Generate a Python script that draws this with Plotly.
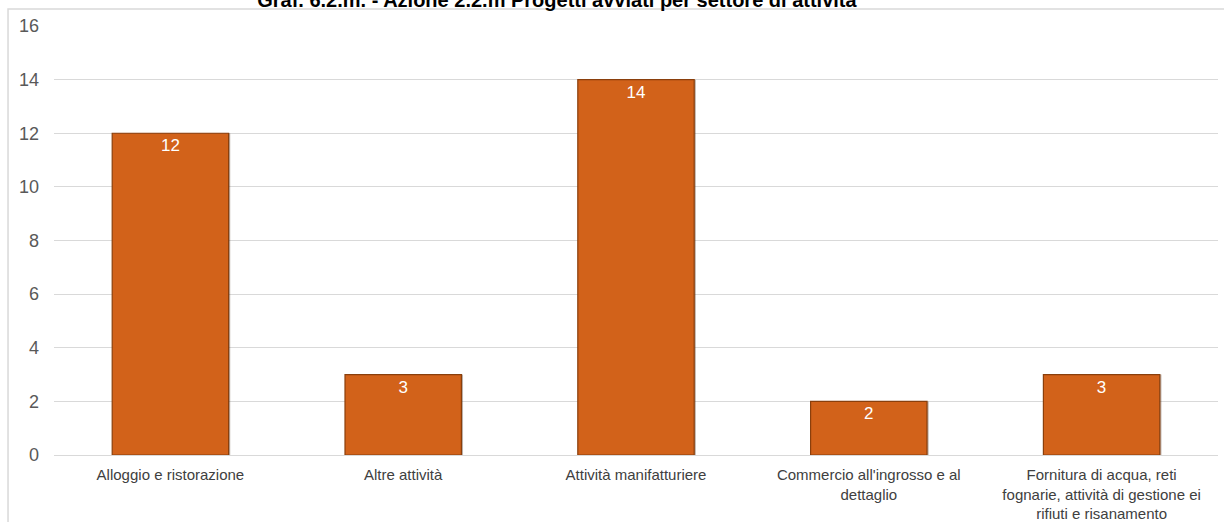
import plotly.graph_objects as go

# Categories and counts of projects by sector
settori = [
    "Alloggio e ristorazione",
    "Altre attività",
    "Attività manifatturiere",
    "Commercio all'ingrosso e al<br>dettaglio",
    "Fornitura di acqua, reti<br>fognarie, attività di gestione ei<br>rifiuti e risanamento",
]
progetti = [12, 3, 14, 2, 3]
y_ticks = [0, 2, 4, 6, 8, 10, 12, 14, 16]

titolo = "Graf. 6.2.m. - Azione 2.2.m Progetti avviati per settore di attività"

fig = go.Figure()

# soft drop shadow behind each bar
fig.add_trace(go.Bar(
    x=settori, y=progetti,
    width=0.5, offset=-0.243,
    marker=dict(color="rgba(60,30,10,0.35)", line=dict(width=0)),
    hoverinfo="skip", showlegend=False,
))

# main bars with value labels
fig.add_trace(go.Bar(
    x=settori, y=progetti,
    width=0.5, offset=-0.25,
    marker=dict(color="#D2621A", line=dict(color="#8A3F0C", width=1.2)),
    text=[str(v) for v in progetti],
    textposition="inside",
    insidetextanchor="end",
    textangle=0,
    textfont=dict(color="white", size=17, family="Liberation Sans, Arial"),
    showlegend=False,
))

fig.update_layout(
    width=1224, height=522,
    barmode="overlay",
    paper_bgcolor="white",
    plot_bgcolor="white",
    margin=dict(l=54, r=6, t=26, b=67),
    font=dict(family="Liberation Sans, Arial", color="#595959"),
    title=dict(
        text="<b>" + titolo + "</b>",
        x=0.455, xanchor="center",
        yref="container", y=1.0, yanchor="middle",
        font=dict(size=20, color="black", family="Liberation Sans, Arial"),
    ),
    xaxis=dict(
        showgrid=False, showline=False, zeroline=False,
        ticks="", tickfont=dict(size=15, color="#404040"),
        ticklabelstandoff=9, automargin=False,
    ),
    yaxis=dict(
        range=[0, 16], tickvals=y_ticks,
        showgrid=True, gridcolor="#D9D9D9", gridwidth=1,
        zeroline=True, zerolinecolor="#D9D9D9", zerolinewidth=1,
        showline=False, ticks="",
        tickfont=dict(size=18, color="#595959"),
        ticklabelstandoff=14, automargin=False,
    ),
    shapes=[dict(
        type="rect", xref="paper", yref="paper",
        x0=-0.0395, x1=1.02, y0=-0.25, y1=1.0396,
        line=dict(color="#D9D9D9", width=1.5),
        fillcolor="rgba(0,0,0,0)", layer="below",
    )],
)

fig.write_html("out.html")
